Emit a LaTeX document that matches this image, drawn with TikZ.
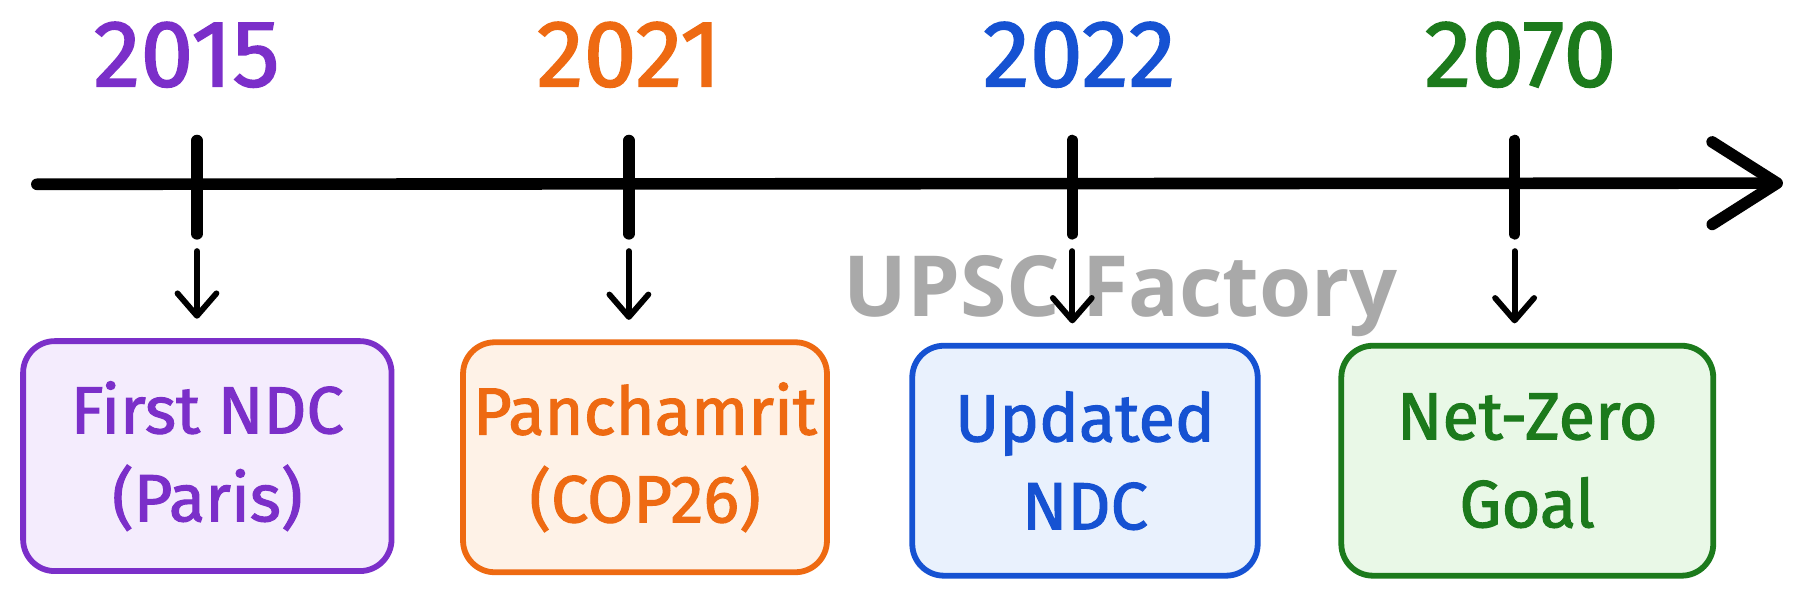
\documentclass[tikz,border=0pt]{standalone}
\usepackage{fontspec}
\setmainfont{Fira Sans}[FakeBold=1.6]
\newfontfamily\markfont{Open Sans}
\usetikzlibrary{arrows.meta}

\definecolor{parisline}{HTML}{7B2FC9}
\definecolor{parisfill}{HTML}{F4ECFD}
\definecolor{copline}{HTML}{EE6A12}
\definecolor{copfill}{HTML}{FEF2E7}
\definecolor{ndcline}{HTML}{1652D2}
\definecolor{ndcfill}{HTML}{E9F1FD}
\definecolor{zeroline}{HTML}{1C7A1C}
\definecolor{zerofill}{HTML}{E9F8E7}
\definecolor{markgray}{HTML}{A9A9A9}

\tikzset{
  axis/.style={line width=6.6pt, line cap=round, -{Straight Barb[length=1.3cm, width=1.65cm, round]}},
  tickmark/.style={line width=6.6pt, line cap=round},
  pointer/.style={line width=3.3pt, line cap=round, shorten >=0.39cm, -{Straight Barb[length=0.45cm, width=0.78cm, round]}},
  year/.style={anchor=base, font=\fontsize{54}{58}\selectfont},
  event/.style={draw, line width=3.3pt, rounded corners=18pt, minimum height=4.6cm, align=center, font=\fontsize{38}{50}\selectfont},
  watermark/.style={anchor=base, text=markgray, font=\markfont\bfseries\fontsize{48}{52}\selectfont}
}

\begin{document}
\begin{tikzpicture}[x=0.023036cm, y=-0.023036cm]
  \useasboundingbox[fill=white] (0,0) rectangle (1568,524);

  % watermark
  \node[watermark] (wm) at (973,275) {UPSC Factory};

  % time axis
  \coordinate (start) at (32,160);
  \coordinate (end) at (1548,159);
  \draw[axis] (start) -- (end);

  % years
  \node[year, text=parisline] (y1) at (162,75) {2015};
  \node[year, text=copline] (y2) at (546,75) {2021};
  \node[year, text=ndcline] (y3) at (937,75) {2022};
  \node[year, text=zeroline] (y4) at (1320,75) {2070};

  % events
  \node[event, draw=parisline, fill=parisfill, text=parisline, minimum width=7.37cm] (e1) at (180,396) {First NDC\\(Paris)};
  \node[event, draw=copline, fill=copfill, text=copline, minimum width=7.28cm] (e2) at (560,397) {Panchamrit\\(COP26)};
  \node[event, draw=ndcline, fill=ndcfill, text=ndcline, minimum width=6.91cm] (e3) at (942,400) {Updated\\NDC};
  \node[event, draw=zeroline, fill=zerofill, text=zeroline, minimum width=7.44cm] (e4) at (1326,400) {Net-Zero\\Goal};

  % ticks and pointers
  \foreach \i/\x in {1/171, 2/546, 3/931, 4/1315} {
    \coordinate (t\i) at (\x,122);
    \coordinate (p\i) at (\x,218);
    \draw[tickmark] (t\i) -- (\x,203);
    \draw[pointer] (p\i) -- (p\i |- e\i.north);
  }
\end{tikzpicture}
\end{document}
